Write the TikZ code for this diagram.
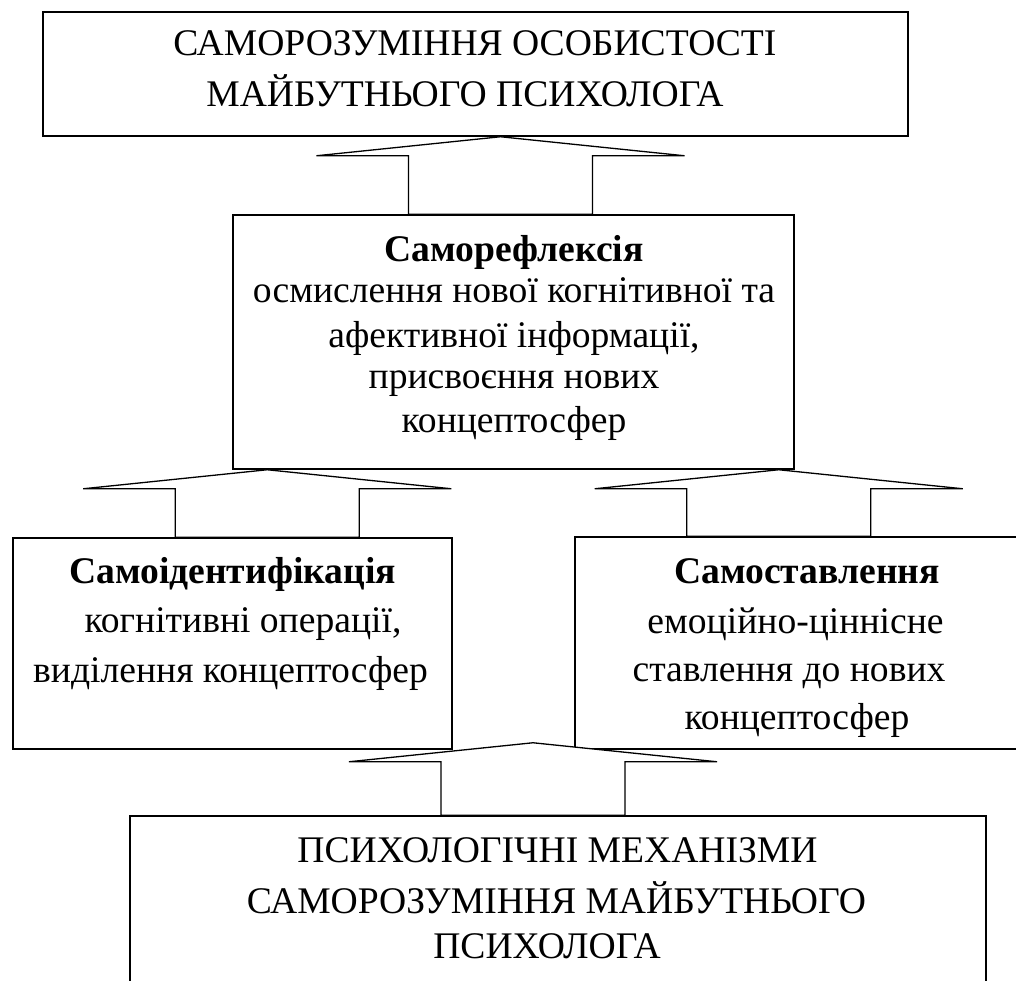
\documentclass[tikz,border=0pt]{standalone}
\usepackage{fontspec}
\setmainfont{Liberation Serif}
\usetikzlibrary{calc}
\tikzset{
  box/.style={draw, line width=1.5pt, rectangle, inner sep=0pt},
  txt/.style={anchor=base, inner sep=0pt, font=\fontsize{37.6}{44}\selectfont},
  btxt/.style={txt, font=\fontsize{37.6}{44}\selectfont\bfseries},
  blockarr/.style={draw, fill=white, line width=1.3pt, line join=miter},
}
\newcommand\blkarrow[2]{%
  \path[blockarr] let \p1=(#1), \p2=(#2) in
    (\x1,\y1) -- (\x1+184pt,\y1-19pt) -- (\x1+92pt,\y1-19pt) -- (\x1+92pt,\y2)
    -- (\x1-92pt,\y2) -- (\x1-92pt,\y1-19pt) -- (\x1-184pt,\y1-19pt) -- cycle;}
\begin{document}
\begin{tikzpicture}[x=1pt, y=-1pt]
\useasboundingbox (0,0) rectangle (1016,980);
% boxes
\node[box, minimum width=865pt, minimum height=124pt] (top) at (475.5,74) {};
\node[box, minimum width=561pt, minimum height=254pt] (refl) at (513.5,342) {};
\node[box, minimum width=439pt, minimum height=211pt] (lbox) at (232.5,643.5) {};
\node[box, minimum width=460pt, minimum height=212pt] (rbox) at (805,643) {};
\node[box, minimum width=856pt, minimum height=200pt] (bot) at (558,916) {};
% texts
\node[txt] (t1) at (475,55) {САМОРОЗУМІННЯ ОСОБИСТОСТІ};
\node[txt] (t2) at (465,106) {МАЙБУТНЬОГО ПСИХОЛОГА};
\node[btxt] (r1) at (514,261) {Саморефлексія};
\node[txt] (r2) at (514,302) {осмислення нової когнітивної та};
\node[txt] (r3) at (514,347) {афективної інформації,};
\node[txt] (r4) at (514,388) {присвоєння нових};
\node[txt] (r5) at (514,432) {концептосфер};
\node[btxt] (l1) at (232.5,583) {Самоідентифікація};
\node[txt] (l2) at (243,632) {когнітивні операції,};
\node[txt] (l3) at (230.5,682) {виділення концептосфер};
\node[btxt] (s1) at (807,583) {Самоставлення};
\node[txt] (s2) at (795.5,633) {емоційно-ціннісне};
\node[txt] (s3) at (789,681) {ставлення до нових};
\node[txt] (s4) at (797,729) {концептосфер};
\node[txt] (b1) at (557.5,862) {ПСИХОЛОГІЧНІ МЕХАНІЗМИ};
\node[txt] (b2) at (556.5,913) {САМОРОЗУМІННЯ МАЙБУТНЬОГО};
\node[txt] (b3) at (547,958) {ПСИХОЛОГА};
% block arrows
\coordinate (a1) at ($(top.south)+(25,0)$);
\blkarrow{a1}{refl.north}
\coordinate (a2) at ($(refl.south west)+(35,0)$);
\blkarrow{a2}{lbox.north}
\coordinate (a3) at ($(refl.south east)+(-16,0)$);
\blkarrow{a3}{rbox.north}
\coordinate (a4) at ($(bot.north |- lbox.south)+(-25,-7)$);
\blkarrow{a4}{bot.north}
\end{tikzpicture}
\end{document}
